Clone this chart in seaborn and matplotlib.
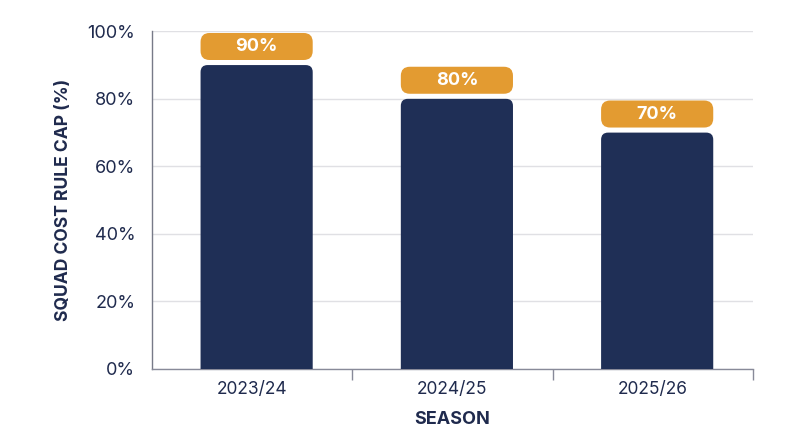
import matplotlib
matplotlib.use("Agg")
import matplotlib.pyplot as plt
import seaborn as sns
import pandas as pd
from matplotlib.patches import FancyBboxPatch
from matplotlib.ticker import MultipleLocator, FixedLocator, PercentFormatter

seasons = ["2023/24", "2024/25", "2025/26"]
caps = [90, 80, 70]
value_labels = ["90%", "80%", "70%"]

NAVY = "#1f2f56"
ORANGE = "#e39b31"
TEXT = "#1f2a4d"

sns.set_theme(style="white")
plt.rcParams["font.family"] = ["Inter", "DejaVu Sans"]

df = pd.DataFrame({"season": seasons, "cap": caps})

fig = plt.figure(figsize=(8, 4.47), dpi=100)
ax = fig.add_axes([0.19, 0.1745, 0.751, 0.7555])

sns.barplot(data=df, x="season", y="cap", color=NAVY, width=0.56, ax=ax, zorder=2)

ax.set_xlim(-0.5, 2.5)
ax.set_ylim(0, 100)
fig.canvas.draw()

bbox = ax.get_window_extent()
x_per_px = 3.0 / bbox.width
y_per_px = 100.0 / bbox.height
aspect = y_per_px / x_per_px

r_bar = 7 * x_per_px
r_lab = 9 * x_per_px
shift = 4.5 * x_per_px

for patch, lab in zip(list(ax.patches), value_labels):
    x0 = patch.get_x() + shift
    w = patch.get_width()
    h = patch.get_height()
    patch.set_visible(False)
    rb = FancyBboxPatch((x0, -10), w, h + 10,
                        boxstyle=f"round,pad=0,rounding_size={r_bar}",
                        mutation_aspect=aspect, facecolor=NAVY,
                        edgecolor="none", zorder=3, clip_on=True)
    ax.add_patch(rb)
    lb = FancyBboxPatch((x0, h + 1.5), w, 8,
                        boxstyle=f"round,pad=0,rounding_size={r_lab}",
                        mutation_aspect=aspect, facecolor=ORANGE,
                        edgecolor="none", zorder=3, clip_on=False)
    ax.add_patch(lb)
    ax.text(x0 + w / 2, h + 5.5, lab, ha="center", va="center",
            color="white", fontsize=13, fontweight="bold", zorder=4)

ax.yaxis.set_major_locator(MultipleLocator(20))
ax.yaxis.set_major_formatter(PercentFormatter(decimals=0))
ax.grid(axis="y", color="#e0e0e4", linewidth=1, zorder=0)
ax.grid(axis="x", visible=False)

ax.xaxis.set_minor_locator(FixedLocator([0.5, 1.5, 2.5]))
ax.tick_params(axis="x", which="major", length=0, pad=9, labelsize=12.5, labelcolor=TEXT)
ax.tick_params(axis="x", which="minor", length=8, width=1, color="#888a99", direction="out", bottom=True)
ax.tick_params(axis="y", length=0, pad=12, labelsize=13, labelcolor=TEXT)

for s in ["top", "right"]:
    ax.spines[s].set_visible(False)
ax.spines["left"].set_color("#777a88")
ax.spines["bottom"].set_color("#888a99")
ax.spines["left"].set_linewidth(1)
ax.spines["bottom"].set_linewidth(1)

ax.set_xlabel("SEASON", fontsize=13, fontweight="bold", color=TEXT, labelpad=9)
ax.set_ylabel("SQUAD COST RULE CAP (%)", fontsize=12.6, fontweight="bold", color=TEXT, labelpad=11)

fig.savefig("out.png", dpi=100, facecolor="white")
